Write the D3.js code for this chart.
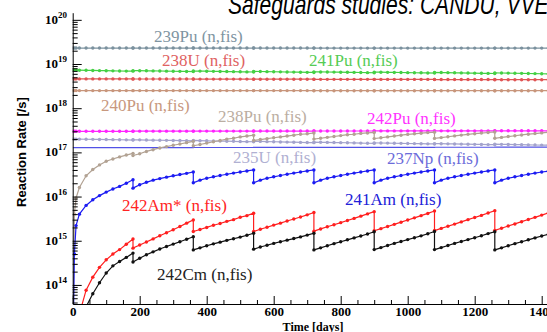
<!DOCTYPE html>
<html>
<head>
<meta charset="utf-8">
<script src="https://cdn.jsdelivr.net/npm/d3@7"></script>
<style>
  body { margin: 0; background: #fff; overflow: hidden; }
  svg { display: block; }
</style>
</head>
<body>
<div id="chart"></div>
<script>
// time grid, refuelling every 180 days (the refuel day appears twice: before / after)
const days = [0, 5, 10, 20, 40, 60, 80, 100, 120, 140, 160, 180,
  180, 200, 220, 240, 260, 280, 300, 320, 340, 360,
  360, 380, 400, 420, 440, 460, 480, 500, 520, 540,
  540, 560, 580, 600, 620, 640, 660, 680, 700, 720,
  720, 740, 760, 780, 800, 820, 840, 860, 880, 900,
  900, 920, 940, 960, 980, 1000, 1020, 1040, 1060, 1080,
  1080, 1100, 1120, 1140, 1160, 1180, 1200, 1220, 1240, 1260,
  1260, 1280, 1300, 1320, 1340, 1360, 1380, 1400, 1420];

// reaction rates [/s]
const pu239 = [2.3e19, 2.3e19, 2.3e19, 2.3e19, 2.3e19, 2.3e19, 2.3e19, 2.3e19, 2.3e19, 2.3e19, 2.3e19, 2.3e19,
  2.3e19, 2.3e19, 2.3e19, 2.3e19, 2.3e19, 2.3e19, 2.3e19, 2.3e19, 2.3e19, 2.3e19,
  2.3e19, 2.3e19, 2.3e19, 2.3e19, 2.3e19, 2.3e19, 2.3e19, 2.3e19, 2.3e19, 2.3e19,
  2.3e19, 2.3e19, 2.3e19, 2.3e19, 2.3e19, 2.3e19, 2.3e19, 2.3e19, 2.3e19, 2.3e19,
  2.29e19, 2.29e19, 2.29e19, 2.29e19, 2.29e19, 2.29e19, 2.29e19, 2.29e19, 2.29e19, 2.29e19,
  2.29e19, 2.29e19, 2.29e19, 2.29e19, 2.29e19, 2.29e19, 2.29e19, 2.29e19, 2.29e19, 2.29e19,
  2.29e19, 2.29e19, 2.29e19, 2.29e19, 2.29e19, 2.29e19, 2.29e19, 2.29e19, 2.29e19, 2.29e19,
  2.29e19, 2.29e19, 2.29e19, 2.29e19, 2.29e19, 2.29e19, 2.29e19, 2.29e19, 2.29e19];

const pu241 = [7.3e18, 7.3e18, 7.3e18, 7.25e18, 7.2e18, 7.15e18, 7.1e18, 7.05e18, 7.0e18, 6.95e18, 6.92e18, 6.9e18,
  7.1e18, 7.06e18, 7.02e18, 6.98e18, 6.94e18, 6.9e18, 6.86e18, 6.82e18, 6.78e18, 6.75e18,
  6.95e18, 6.91e18, 6.87e18, 6.83e18, 6.79e18, 6.75e18, 6.71e18, 6.67e18, 6.63e18, 6.6e18,
  6.8e18, 6.76e18, 6.72e18, 6.68e18, 6.64e18, 6.6e18, 6.56e18, 6.52e18, 6.48e18, 6.45e18,
  6.65e18, 6.62e18, 6.59e18, 6.56e18, 6.52e18, 6.49e18, 6.46e18, 6.42e18, 6.38e18, 6.35e18,
  6.55e18, 6.52e18, 6.48e18, 6.45e18, 6.42e18, 6.38e18, 6.35e18, 6.32e18, 6.28e18, 6.25e18,
  6.45e18, 6.41e18, 6.37e18, 6.33e18, 6.29e18, 6.25e18, 6.21e18, 6.17e18, 6.13e18, 6.1e18,
  6.3e18, 6.26e18, 6.22e18, 6.18e18, 6.14e18, 6.1e18, 6.06e18, 6.02e18, 5.98e18];

const u238 = [4.6e18, 4.6e18, 4.6e18, 4.6e18, 4.6e18, 4.6e18, 4.6e18, 4.6e18, 4.6e18, 4.6e18, 4.6e18, 4.6e18,
  4.58e18, 4.58e18, 4.58e18, 4.58e18, 4.58e18, 4.58e18, 4.58e18, 4.58e18, 4.58e18, 4.58e18,
  4.56e18, 4.56e18, 4.56e18, 4.56e18, 4.56e18, 4.56e18, 4.56e18, 4.56e18, 4.56e18, 4.56e18,
  4.53e18, 4.53e18, 4.53e18, 4.53e18, 4.53e18, 4.53e18, 4.53e18, 4.53e18, 4.53e18, 4.53e18,
  4.5e18, 4.5e18, 4.5e18, 4.5e18, 4.5e18, 4.5e18, 4.5e18, 4.5e18, 4.5e18, 4.5e18,
  4.48e18, 4.48e18, 4.48e18, 4.48e18, 4.48e18, 4.48e18, 4.48e18, 4.48e18, 4.48e18, 4.48e18,
  4.45e18, 4.45e18, 4.45e18, 4.45e18, 4.45e18, 4.45e18, 4.45e18, 4.45e18, 4.45e18, 4.45e18,
  4.42e18, 4.42e18, 4.42e18, 4.42e18, 4.42e18, 4.42e18, 4.42e18, 4.42e18, 4.42e18];

const pu240 = [2.5e18, 2.5e18, 2.5e18, 2.5e18, 2.5e18, 2.5e18, 2.5e18, 2.5e18, 2.5e18, 2.5e18, 2.5e18, 2.5e18,
  2.5e18, 2.5e18, 2.5e18, 2.5e18, 2.5e18, 2.5e18, 2.5e18, 2.5e18, 2.5e18, 2.5e18,
  2.5e18, 2.5e18, 2.5e18, 2.5e18, 2.5e18, 2.5e18, 2.5e18, 2.5e18, 2.5e18, 2.5e18,
  2.5e18, 2.5e18, 2.5e18, 2.5e18, 2.5e18, 2.5e18, 2.5e18, 2.5e18, 2.5e18, 2.5e18,
  2.49e18, 2.49e18, 2.49e18, 2.49e18, 2.49e18, 2.49e18, 2.49e18, 2.49e18, 2.49e18, 2.49e18,
  2.49e18, 2.49e18, 2.49e18, 2.49e18, 2.49e18, 2.49e18, 2.49e18, 2.49e18, 2.49e18, 2.49e18,
  2.49e18, 2.49e18, 2.49e18, 2.49e18, 2.49e18, 2.49e18, 2.49e18, 2.49e18, 2.49e18, 2.49e18,
  2.49e18, 2.49e18, 2.49e18, 2.49e18, 2.49e18, 2.49e18, 2.49e18, 2.49e18, 2.49e18];

const pu242 = [3.0e17, 3.0e17, 3.0e17, 3.0e17, 3.0e17, 3.0e17, 3.0e17, 3.0e17, 3.0e17, 3.0e17, 3.0e17, 3.0e17,
  3.02e17, 3.02e17, 3.02e17, 3.02e17, 3.02e17, 3.02e17, 3.02e17, 3.02e17, 3.02e17, 3.02e17,
  3.03e17, 3.03e17, 3.03e17, 3.03e17, 3.03e17, 3.03e17, 3.03e17, 3.03e17, 3.03e17, 3.03e17,
  3.04e17, 3.04e17, 3.04e17, 3.04e17, 3.04e17, 3.04e17, 3.04e17, 3.04e17, 3.04e17, 3.04e17,
  3.05e17, 3.05e17, 3.05e17, 3.05e17, 3.05e17, 3.05e17, 3.05e17, 3.05e17, 3.05e17, 3.05e17,
  3.06e17, 3.06e17, 3.06e17, 3.06e17, 3.06e17, 3.06e17, 3.06e17, 3.06e17, 3.06e17, 3.06e17,
  3.07e17, 3.07e17, 3.07e17, 3.07e17, 3.07e17, 3.07e17, 3.07e17, 3.07e17, 3.07e17, 3.07e17,
  3.08e17, 3.08e17, 3.08e17, 3.08e17, 3.08e17, 3.08e17, 3.08e17, 3.08e17, 3.08e17];

const u235 = [2.0e17, 2.0e17, 2.0e17, 1.99e17, 1.98e17, 1.97e17, 1.96e17, 1.95e17, 1.94e17, 1.93e17, 1.92e17, 1.9e17,
  1.93e17, 1.92e17, 1.9e17, 1.89e17, 1.88e17, 1.87e17, 1.86e17, 1.85e17, 1.84e17, 1.82e17,
  1.86e17, 1.84e17, 1.83e17, 1.81e17, 1.8e17, 1.79e17, 1.78e17, 1.76e17, 1.75e17, 1.74e17,
  1.78e17, 1.77e17, 1.75e17, 1.74e17, 1.72e17, 1.71e17, 1.7e17, 1.68e17, 1.67e17, 1.66e17,
  1.7e17, 1.69e17, 1.68e17, 1.67e17, 1.66e17, 1.65e17, 1.64e17, 1.62e17, 1.61e17, 1.6e17,
  1.64e17, 1.63e17, 1.62e17, 1.61e17, 1.6e17, 1.59e17, 1.58e17, 1.57e17, 1.56e17, 1.55e17,
  1.58e17, 1.57e17, 1.56e17, 1.55e17, 1.54e17, 1.53e17, 1.52e17, 1.51e17, 1.5e17, 1.5e17,
  1.53e17, 1.52e17, 1.51e17, 1.5e17, 1.49e17, 1.48e17, 1.47e17, 1.46e17, 1.45e17];

const np237 = [1.28e17, 1.28e17, 1.28e17, 1.28e17, 1.28e17, 1.28e17, 1.28e17, 1.28e17, 1.28e17, 1.28e17, 1.28e17, 1.28e17,
  1.285e17, 1.285e17, 1.285e17, 1.285e17, 1.285e17, 1.285e17, 1.285e17, 1.285e17, 1.285e17, 1.285e17,
  1.29e17, 1.29e17, 1.29e17, 1.29e17, 1.29e17, 1.29e17, 1.29e17, 1.29e17, 1.29e17, 1.29e17,
  1.295e17, 1.295e17, 1.295e17, 1.295e17, 1.295e17, 1.295e17, 1.295e17, 1.295e17, 1.295e17, 1.295e17,
  1.3e17, 1.3e17, 1.3e17, 1.3e17, 1.3e17, 1.3e17, 1.3e17, 1.3e17, 1.3e17, 1.3e17,
  1.3e17, 1.3e17, 1.3e17, 1.3e17, 1.3e17, 1.3e17, 1.3e17, 1.3e17, 1.3e17, 1.3e17,
  1.305e17, 1.305e17, 1.305e17, 1.305e17, 1.305e17, 1.305e17, 1.305e17, 1.305e17, 1.305e17, 1.305e17,
  1.31e17, 1.31e17, 1.31e17, 1.31e17, 1.31e17, 1.31e17, 1.31e17, 1.31e17, 1.31e17];

const pu238 = [1e12, 4.0e15, 9.3e15, 1.6e16, 2.95e16, 4.1e16, 5.2e16, 6.3e16, 7.1e16, 7.9e16, 8.7e16, 9.5e16,
  8.5e16, 9.3e16, 1.05e17, 1.15e17, 1.26e17, 1.35e17, 1.45e17, 1.55e17, 1.66e17, 1.78e17,
  1.41e17, 1.51e17, 1.62e17, 1.74e17, 1.86e17, 2.0e17, 2.09e17, 2.24e17, 2.34e17, 2.45e17,
  1.86e17, 1.95e17, 2.04e17, 2.14e17, 2.24e17, 2.34e17, 2.45e17, 2.57e17, 2.63e17, 2.75e17,
  2.0e17, 2.09e17, 2.19e17, 2.29e17, 2.4e17, 2.51e17, 2.57e17, 2.69e17, 2.75e17, 2.82e17,
  2.05e17, 2.14e17, 2.24e17, 2.34e17, 2.45e17, 2.55e17, 2.63e17, 2.72e17, 2.8e17, 2.87e17,
  2.07e17, 2.16e17, 2.26e17, 2.36e17, 2.46e17, 2.56e17, 2.65e17, 2.74e17, 2.82e17, 2.9e17,
  2.08e17, 2.18e17, 2.28e17, 2.38e17, 2.48e17, 2.58e17, 2.67e17, 2.76e17, 2.84e17];

const am241 = [1e12, 5.0e14, 2.2e15, 4.0e15, 6.3e15, 8.5e15, 1.05e16, 1.26e16, 1.48e16, 1.7e16, 2.0e16, 2.4e16,
  1.55e16, 1.85e16, 2.1e16, 2.35e16, 2.55e16, 2.75e16, 2.95e16, 3.15e16, 3.35e16, 3.6e16,
  2.05e16, 2.35e16, 2.6e16, 2.8e16, 3.0e16, 3.2e16, 3.4e16, 3.6e16, 3.8e16, 4.0e16,
  2.05e16, 2.35e16, 2.6e16, 2.8e16, 3.0e16, 3.2e16, 3.4e16, 3.6e16, 3.8e16, 4.0e16,
  2.05e16, 2.35e16, 2.6e16, 2.8e16, 3.0e16, 3.2e16, 3.4e16, 3.6e16, 3.8e16, 4.0e16,
  2.05e16, 2.35e16, 2.6e16, 2.8e16, 3.0e16, 3.2e16, 3.4e16, 3.6e16, 3.8e16, 4.0e16,
  2.05e16, 2.35e16, 2.6e16, 2.8e16, 3.0e16, 3.2e16, 3.4e16, 3.6e16, 3.8e16, 4.0e16,
  2.05e16, 2.35e16, 2.6e16, 2.8e16, 3.0e16, 3.2e16, 3.4e16, 3.6e16, 3.75e16];

const am242m = [1e11, 1e11, 1e12, 2.2e13, 7.6e13, 1.5e14, 2.5e14, 3.7e14, 5.0e14, 6.3e14, 8.3e14, 1.1e15,
  6.8e14, 8.0e14, 9.4e14, 1.1e15, 1.3e15, 1.52e15, 1.78e15, 2.1e15, 2.5e15, 2.95e15,
  1.62e15, 1.8e15, 2.0e15, 2.24e15, 2.45e15, 2.75e15, 3.0e15, 3.4e15, 3.7e15, 4.2e15,
  1.62e15, 1.82e15, 2.02e15, 2.26e15, 2.5e15, 2.8e15, 3.1e15, 3.45e15, 3.85e15, 4.35e15,
  1.65e15, 1.85e15, 2.07e15, 2.3e15, 2.57e15, 2.87e15, 3.2e15, 3.6e15, 4.05e15, 4.55e15,
  1.68e15, 1.88e15, 2.1e15, 2.35e15, 2.63e15, 2.95e15, 3.3e15, 3.7e15, 4.15e15, 4.7e15,
  1.7e15, 1.9e15, 2.13e15, 2.38e15, 2.67e15, 3.0e15, 3.35e15, 3.75e15, 4.25e15, 4.8e15,
  1.72e15, 1.92e15, 2.15e15, 2.4e15, 2.7e15, 3.02e15, 3.38e15, 3.8e15, 4.25e15];

const cm242 = [1e11, 1e11, 1e11, 1e12, 3.2e13, 6.3e13, 1.12e14, 1.86e14, 2.7e14, 3.4e14, 4.2e14, 5.25e14,
  3.3e14, 4.0e14, 4.8e14, 5.6e14, 6.5e14, 7.4e14, 8.4e14, 9.5e14, 1.08e15, 1.23e15,
  6.2e14, 6.9e14, 7.7e14, 8.5e14, 9.3e14, 1.02e15, 1.11e15, 1.21e15, 1.33e15, 1.48e15,
  6.45e14, 7.2e14, 7.9e14, 8.7e14, 9.5e14, 1.03e15, 1.12e15, 1.22e15, 1.34e15, 1.48e15,
  6.2e14, 6.9e14, 7.7e14, 8.6e14, 9.5e14, 1.05e15, 1.16e15, 1.28e15, 1.42e15, 1.6e15,
  6.3e14, 7.0e14, 7.8e14, 8.7e14, 9.6e14, 1.06e15, 1.17e15, 1.29e15, 1.44e15, 1.62e15,
  6.3e14, 7.0e14, 7.8e14, 8.7e14, 9.6e14, 1.06e15, 1.17e15, 1.3e15, 1.45e15, 1.6e15,
  6.2e14, 6.9e14, 7.7e14, 8.6e14, 9.5e14, 1.05e15, 1.16e15, 1.28e15, 1.4e15];

const xTicks = [0, 200, 400, 600, 800, 1000, 1200, 1400];
const yTicks = [1e14, 1e15, 1e16, 1e17, 1e18, 1e19, 1e20];

// drawing setup for each curve (colour, label text and where the label sits)
const series = [
  {values: np237,  color: '#5252e6', dots: false, label: '237Np (n,fis)', lc: '#6c6cda', lx: 387, ly: 164},
  {values: u235,   color: '#a3a3cc', dots: true,  label: '235U (n,fis)',  lc: '#b0b0d2', lx: 233, ly: 163},
  {values: pu239,  color: '#7b919e', dots: true,  label: '239Pu (n,fis)', lc: '#7f95a2', lx: 154, ly: 42},
  {values: pu241,  color: '#44d044', dots: true,  label: '241Pu (n,fis)', lc: '#55cc55', lx: 309, ly: 66},
  {values: u238,   color: '#e05555', dots: true,  label: '238U (n,fis)',  lc: '#e06262', lx: 162, ly: 66},
  {values: pu240,  color: '#c8967c', dots: true,  label: '240Pu (n,fis)', lc: '#c8987e', lx: 101, ly: 111},
  {values: pu242,  color: '#ff22ff', dots: true,  label: '242Pu (n,fis)', lc: '#ff33ff', lx: 367, ly: 124},
  {values: pu238,  color: '#b2a293', dots: true,  label: '238Pu (n,fis)', lc: '#bbaea2', lx: 218, ly: 122},
  {values: am241,  color: '#1c1cf2', dots: true,  label: '241Am (n,fis)', lc: '#2020d8', lx: 345, ly: 205},
  {values: am242m, color: '#ff1f1f', dots: true,  label: '242Am* (n,fis)', lc: '#ff2424', lx: 122, ly: 211},
  {values: cm242,  color: '#111111', dots: true,  label: '242Cm (n,fis)', lc: '#222222', lx: 157, ly: 280}
];

const width = 547, height = 332;

const svg = d3.select('#chart').append('svg')
  .attr('width', width)
  .attr('height', height);

const x = d3.scaleLinear().domain([0, 1420]).range([72.7, 548.4]);
const y = d3.scaleLog().domain([3.7e13, 1.45e20]).range([304, 12.7]);

svg.append('defs').append('clipPath').attr('id', 'plot')
  .append('rect')
  .attr('x', 72.7).attr('y', 12.7)
  .attr('width', width - 72.7).attr('height', 304 - 12.7);

// title, cut off by the top of the picture (squeezed sideways like the slide)
svg.append('text')
  .attr('transform', 'translate(228,14) scale(0.78,1)')
  .style('font-family', '"Liberation Sans", Arial, sans-serif')
  .style('font-style', 'italic')
  .style('font-size', '27px')
  .text('Safeguards studies: CANDU, VVER');

// curves
const line = d3.line()
  .x((d, i) => x(days[i]))
  .y(d => y(d));

const plot = svg.append('g').attr('clip-path', 'url(#plot)');

series.forEach(s => {
  plot.append('path')
    .attr('d', line(s.values))
    .attr('fill', 'none')
    .attr('stroke', s.color)
    .attr('stroke-width', 1.2);

  if (s.dots) {
    plot.append('g').selectAll('circle')
      .data(s.values)
      .enter()
      .append('circle')
      .attr('cx', (d, i) => x(days[i]))
      .attr('cy', d => y(d))
      .attr('r', 1.7)
      .attr('fill', s.color);
  }
});

// labels of the curves
svg.append('g').selectAll('text')
  .data(series)
  .enter()
  .append('text')
  .attr('x', d => d.lx)
  .attr('y', d => d.ly)
  .attr('fill', d => d.lc)
  .style('font-family', '"Liberation Serif", "Times New Roman", serif')
  .style('font-size', '17px')
  .text(d => d.label);

// x axis, ticks pointing into the plot
const minorX = d3.range(0, 1450, 50).filter(v => v % 200 !== 0);

svg.append('g')
  .attr('transform', 'translate(0,304)')
  .call(d3.axisBottom(x).tickValues(minorX).tickSize(-4).tickSizeOuter(0).tickFormat(''))
  .call(g => g.select('.domain').remove());

const xAxis = svg.append('g')
  .attr('transform', 'translate(0,304)')
  .call(d3.axisBottom(x).tickValues(xTicks).tickSize(-8).tickSizeOuter(0).tickPadding(3).tickFormat(d3.format('d')));

xAxis.selectAll('text')
  .style('font-family', '"Liberation Serif", "Times New Roman", serif')
  .style('font-weight', 'bold')
  .style('font-size', '13px')
  .attr('fill', '#000');

// y axis, log scale with minor ticks 2..9 per decade
const minorY = [];
for (let e = 13; e <= 19; e++) {
  for (let m = 2; m <= 9; m++) minorY.push(m * Math.pow(10, e));
}

svg.append('g')
  .attr('transform', 'translate(72.7,0)')
  .call(d3.axisLeft(y).tickValues(minorY.filter(v => v >= 3.7e13 && v <= 1.45e20)).tickSize(-5).tickSizeOuter(0).tickFormat(''))
  .call(g => g.select('.domain').remove());

svg.append('g')
  .attr('transform', 'translate(72.7,0)')
  .call(d3.axisLeft(y).tickValues(yTicks).tickSize(-9).tickSizeOuter(0).tickFormat(''));

const yLab = svg.append('g').selectAll('text')
  .data(yTicks)
  .enter()
  .append('text')
  .attr('x', 67)
  .attr('y', d => y(d) + 4)
  .attr('text-anchor', 'end')
  .style('font-family', '"Liberation Serif", "Times New Roman", serif')
  .style('font-weight', 'bold')
  .style('font-size', '13px');

yLab.append('tspan').text('10');
yLab.append('tspan')
  .attr('dy', -6)
  .style('font-size', '9px')
  .text(d => Math.round(Math.log10(d)));

svg.selectAll('.tick line').attr('stroke', '#000');

// axis titles
svg.append('text')
  .attr('x', 313).attr('y', 331)
  .attr('text-anchor', 'middle')
  .style('font-family', '"Liberation Serif", "Times New Roman", serif')
  .style('font-weight', 'bold')
  .style('font-size', '12px')
  .text('Time [days]');

svg.append('text')
  .attr('transform', 'translate(26,152) rotate(-90)')
  .attr('text-anchor', 'middle')
  .style('font-family', '"Liberation Sans", Arial, sans-serif')
  .style('font-weight', 'bold')
  .style('font-size', '13px')
  .text('Reaction Rate [/s]');
</script>
</body>
</html>
